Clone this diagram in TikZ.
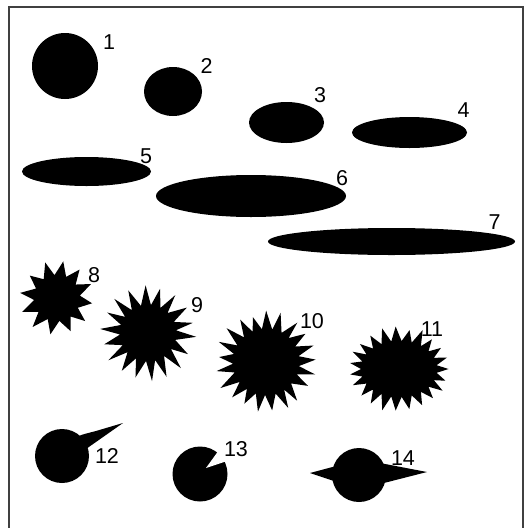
\documentclass[tikz,border=0pt]{standalone}
\usepackage{fontspec}
\setmainfont{Liberation Sans}
\begin{document}
\begin{tikzpicture}[x=1pt,y=-1pt,
  lbl/.style={inner sep=0pt,font=\fontsize{21.5}{23}\selectfont},
  blob/.style={fill=black},
  frameline/.style={draw=black!75,line width=1.6pt}]
\useasboundingbox (0,0) rectangle (524,528);
\fill[white] (0,0) rectangle (524,528);
% frame
\draw[frameline] (9,540) -- (9,7) -- (523,7) -- (523,540);
% ellipses
\fill[blob] (65,66) circle [radius=33pt];
\fill[blob] (173,91.5) ellipse [x radius=29pt,y radius=24.5pt];
\fill[blob] (286.5,122.5) ellipse [x radius=37.5pt,y radius=20.5pt];
\fill[blob] (409.5,132.5) ellipse [x radius=57.5pt,y radius=15.5pt];
\fill[blob] (86.5,171.5) ellipse [x radius=64.5pt,y radius=14.5pt];
\fill[blob] (251,196) ellipse [x radius=95pt,y radius=21pt];
\fill[blob] (391.5,241.5) ellipse [x radius=123.5pt,y radius=13.5pt];
% starbursts
\pgfmathsetseed{7}
\fill[blob,shift={(57,298)}] plot[samples at={0,...,23},variable=\k]
  ({\k*15+8+3*rnd}:{ifthenelse(mod(\k,2)==0,35+3*rnd,23)}) -- cycle;
\fill[blob,shift={(148,333)}] plot[samples at={0,...,35},variable=\k]
  ({\k*10+4+3*rnd}:{ifthenelse(mod(\k,2)==0,44+5*rnd,28)}) -- cycle;
\fill[blob,shift={(266,362)}] plot[samples at={0,...,41},variable=\k]
  ({\k*360/42-90+3*rnd}:{ifthenelse(mod(\k,2)==0,46+7*rnd,33)}) -- cycle;
\fill[blob,shift={(399,369)}] plot[samples at={0,...,45},variable=\k]
  ({(ifthenelse(mod(\k,2)==0,48+4*rnd,38))*cos(\k*360/46)},
   {(ifthenelse(mod(\k,2)==0,39+5*rnd,28))*sin(\k*360/46)}) -- cycle;
% 12: circle with tail
\fill[blob] (62,456) circle [radius=27pt];
\fill[blob] (123,423) -- (86,449) -- (72,441)
  .. controls (77,435) and (85,434) .. (96,431) -- cycle;
% 13: circle with notch
\fill[blob] (200,474) circle [radius=27.5pt];
\fill[white] (206,468) -- (232,432) -- (242,456) -- cycle;
% 14: circle with two spikes
\fill[blob] (359,475) circle [radius=27pt];
\fill[blob] (310,473) -- (340,465) .. controls (343,468) .. (346,468)
  -- (346,479) .. controls (343,479) .. (340,483) -- cycle;
\fill[blob] (427,472) -- (380,463) .. controls (376,466) .. (372,466)
  -- (372,481) .. controls (376,481) .. (380,484) -- cycle;
% labels
\node[lbl] (l1) at (109,42) {1};
\node[lbl] (l2) at (206.5,66) {2};
\node[lbl] (l3) at (320,95) {3};
\node[lbl] (l4) at (463.5,110) {4};
\node[lbl] (l5) at (146,156) {5};
\node[lbl] (l6) at (342,178) {6};
\node[lbl] (l7) at (494.5,222.5) {7};
\node[lbl] (l8) at (94,275) {8};
\node[lbl] (l9) at (197,305) {9};
\node[lbl] (l10) at (312,321) {10};
\node[lbl] (l11) at (432,329) {11};
\node[lbl] (l12) at (107,456) {12};
\node[lbl] (l13) at (236,449) {13};
\node[lbl] (l14) at (403,458) {14};
\end{tikzpicture}
\end{document}
